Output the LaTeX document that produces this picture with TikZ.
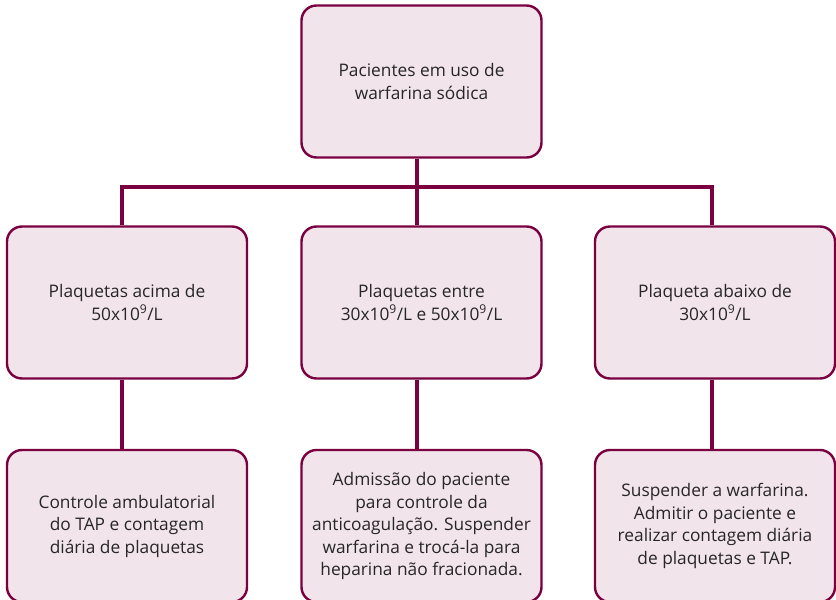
\documentclass[tikz,border=0pt]{standalone}
\usepackage{fontspec}
\setmainfont{Open Sans}
\usepackage{xcolor}
\usetikzlibrary{positioning}
\definecolor{maroon}{RGB}{122,0,64}
\definecolor{rosa}{RGB}{241,228,235}

\begin{document}
\begin{tikzpicture}[x=1pt,y=-1pt,
  caixa/.style={draw=maroon,fill=rosa,line width=2.4pt,rounded corners=15pt,
    minimum width=240pt,minimum height=152pt,align=center,text=black!85,inner sep=2pt,
    font=\fontsize{17.3}{22.5}\selectfont},
  liga/.style={draw=maroon,line width=3.2pt}]
\useasboundingbox (0,0) rectangle (836,600);
\clip (0,0) rectangle (836,600);

\node [caixa] (topo) at (421.5,81.5) {Pacientes em uso de\\warfarina sódica};

\node [caixa] (acima) at (127,302.5) {Plaquetas acima de\\50x10\textsuperscript{9}/L};
\node [caixa] (entre) at (421.5,302.5) {Plaquetas entre\\30x10\textsuperscript{9}/L e 50x10\textsuperscript{9}/L};
\node [caixa] (abaixo) at (715,302.5) {Plaqueta abaixo de\\30x10\textsuperscript{9}/L};

\node [caixa] (ambul) at (127,526) {Controle ambulatorial\\do TAP e contagem\\diária de plaquetas};
\node [caixa] (admis) at (421.5,526) {Admissão do paciente\\para controle da\\anticoagulação. Suspender\\warfarina e trocá-la para\\heparina não fracionada.};
\node [caixa] (susp) at (715,526) {Suspender a warfarina.\\Admitir o paciente e\\realizar contagem diária\\de plaquetas e TAP.};

\coordinate (barra) at (417,187);
\draw [liga] ([xshift=-4.5pt]topo.south) -- (barra);
\draw [liga] ([xshift=-5pt]acima.north) |- (barra) -| ([xshift=-3pt]abaixo.north);
\draw [liga] (barra) -- ([xshift=-4.5pt]entre.north);

\draw [liga] ([xshift=-5pt]acima.south) -- ([xshift=-5pt]ambul.north);
\draw [liga] ([xshift=-4.5pt]entre.south) -- ([xshift=-4.5pt]admis.north);
\draw [liga] ([xshift=-3pt]abaixo.south) -- ([xshift=-3pt]susp.north);
\end{tikzpicture}
\end{document}
